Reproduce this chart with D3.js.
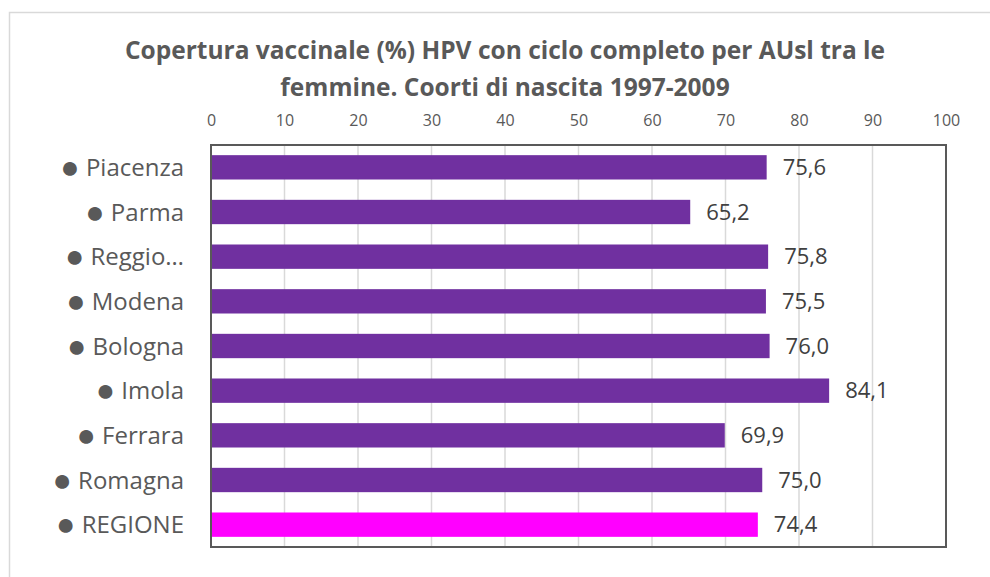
<!DOCTYPE html>
<html>
<head>
<meta charset="utf-8">
<script src="https://cdn.jsdelivr.net/npm/d3@7"></script>
<style>
  html, body { margin: 0; padding: 0; background: #fff; }
  svg { display: block; }
  text { font-family: "Open Sans", sans-serif; }
</style>
</head>
<body>
<svg id="chart" width="990" height="577"></svg>
<script>
const categories = ["Piacenza", "Parma", "Reggio…", "Modena", "Bologna", "Imola", "Ferrara", "Romagna", "REGIONE"];
const values = [75.6, 65.2, 75.8, 75.5, 76.0, 84.1, 69.9, 75.0, 74.4];
const barColors = ["#7030A0", "#7030A0", "#7030A0", "#7030A0", "#7030A0", "#7030A0", "#7030A0", "#7030A0", "#FF00FF"];
const tickValues = [0, 10, 20, 30, 40, 50, 60, 70, 80, 90, 100];
const titleLines = ["Copertura vaccinale (%) HPV con ciclo completo per AUsl tra le", "femmine. Coorti di nascita 1997-2009"];

const data = categories.map((c, i) => ({ cat: c, value: values[i], color: barColors[i] }));

const svg = d3.select("#chart");
const plot = { left: 211, right: 946, top: 145, bottom: 547 };

// outer chart border
svg.append("rect")
  .attr("x", 9.5).attr("y", 12.5)
  .attr("width", 1000).attr("height", 600)
  .attr("fill", "#fff").attr("stroke", "#d9d9d9").attr("stroke-width", 1.5);

// title
const title = svg.append("text")
  .attr("text-anchor", "middle")
  .attr("fill", "#595959")
  .attr("font-weight", "bold")
  .attr("font-size", 24.5);
titleLines.forEach((t, i) => {
  title.append("tspan").attr("x", 505).attr("y", 59 + i * 37).text(t);
});

const x = d3.scaleLinear().domain([0, 100]).range([plot.left, plot.right]);
const y = d3.scaleBand().domain(categories).range([plot.top, plot.bottom]).paddingInner(0.455).paddingOuter(0.2275);

// gridlines
svg.append("g")
  .selectAll("line")
  .data(tickValues.filter(v => v > 0 && v < 100))
  .join("line")
  .attr("x1", d => x(d)).attr("x2", d => x(d))
  .attr("y1", plot.top).attr("y2", plot.bottom)
  .attr("stroke", "#d9d9d9").attr("stroke-width", 1.5);

// top axis labels
const axis = d3.axisTop(x).tickValues(tickValues).tickSize(0).tickPadding(0).tickFormat(d3.format("d"));
const gAxis = svg.append("g").attr("transform", `translate(0,${plot.top - 20})`).call(axis);
gAxis.select(".domain").remove();
gAxis.selectAll("text")
  .attr("font-family", "Open Sans, sans-serif")
  .attr("font-size", 16)
  .attr("fill", "#595959")
  .attr("dy", "0.32em")
  .attr("y", -4);

// bars
svg.append("g")
  .selectAll("rect")
  .data(data)
  .join("rect")
  .attr("x", x(0))
  .attr("y", d => y(d.cat))
  .attr("width", d => x(d.value) - x(0))
  .attr("height", y.bandwidth())
  .attr("fill", d => d.color);

// value labels
const fmt = v => d3.format(".1f")(v).replace(".", ",");
svg.append("g")
  .selectAll("text")
  .data(data)
  .join("text")
  .attr("x", d => x(d.value) + 16)
  .attr("y", d => y(d.cat) + y.bandwidth() / 2)
  .attr("dy", "0.35em")
  .attr("font-size", 22)
  .attr("fill", "#404040")
  .text(d => fmt(d.value));

// category labels
const cl = svg.append("g")
  .selectAll("text")
  .data(data)
  .join("text")
  .attr("x", 184)
  .attr("y", d => y(d.cat) + y.bandwidth() / 2 + 8.5)
  .attr("text-anchor", "end")
  .attr("font-size", 24)
  .attr("fill", "#595959");
cl.append("tspan").attr("font-size", 32).attr("dy", 2).text("●");
cl.append("tspan").attr("dy", -2).text(d => "\u00a0" + d.cat);

// plot frame
svg.append("rect")
  .attr("x", plot.left).attr("y", plot.top)
  .attr("width", plot.right - plot.left).attr("height", plot.bottom - plot.top)
  .attr("fill", "none").attr("stroke", "#595959").attr("stroke-width", 2);
</script>
</body>
</html>
